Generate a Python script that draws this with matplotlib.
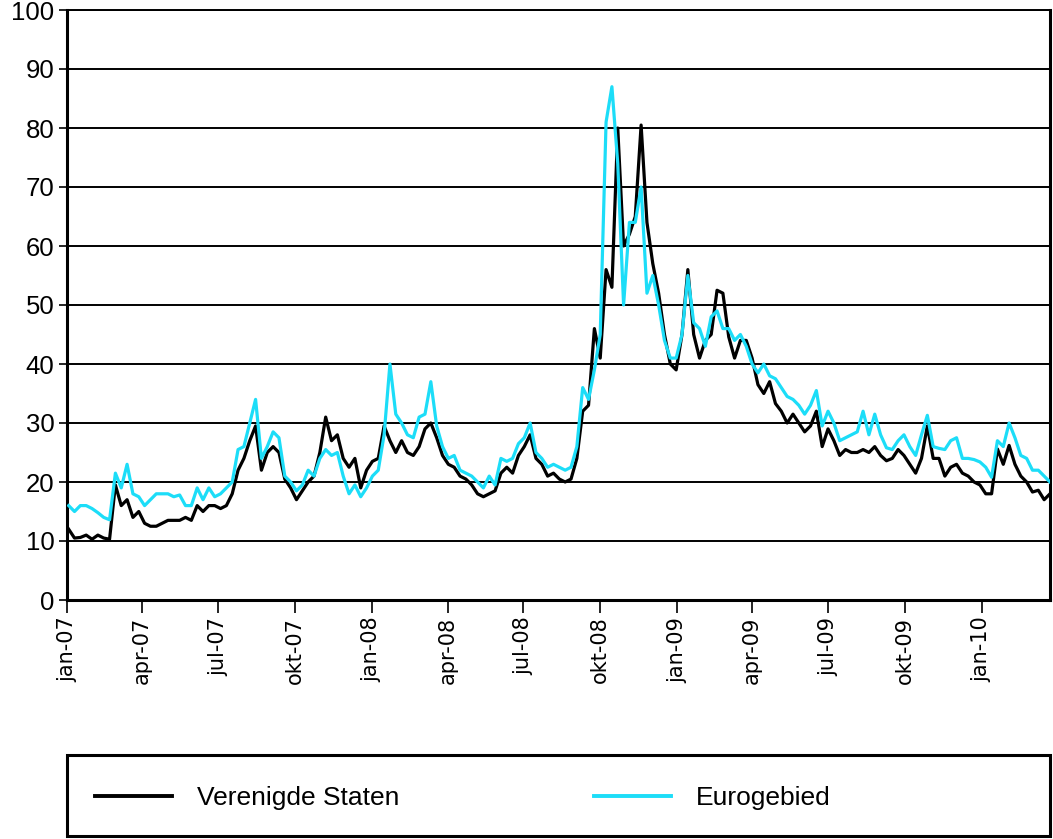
import pandas as pd
import matplotlib
matplotlib.use('Agg')
import matplotlib.pyplot as plt
from matplotlib.patches import Rectangle

################# DATA (weekly) #################

START_DATUM = '2007-01-03'

verenigde_staten = [
    12, 10.5, 10.6, 11, 10.3, 11, 10.5, 10.3, 19.5, 16,
    17, 14, 15, 13, 12.5, 12.5, 13, 13.5, 13.5, 13.5,
    14, 13.5, 16, 15, 16, 16, 15.5, 16, 18, 22,
    24, 27, 29.5, 22, 25, 26, 25, 20.5, 19, 17,
    18.5, 20, 21, 25, 31, 27, 28, 24, 22.5, 24,
    19, 22, 23.5, 24, 29.5, 27, 25, 27, 25, 24.5,
    26, 29, 30, 27.5, 24.5, 23, 22.5, 21, 20.5, 19.5,
    18, 17.5, 18, 18.5, 21.5, 22.5, 21.5, 24.5, 26, 28,
    24, 23, 21, 21.5, 20.5, 20, 20.5, 24, 32, 33,
    46, 41, 56, 53, 80, 60, 62, 65, 80.5, 64,
    57, 52, 45, 40, 39, 45, 56, 45, 41, 44,
    45, 52.5, 52, 44.6, 41, 44, 44, 41, 36.5, 35,
    37, 33.3, 32, 30, 31.5, 30, 28.5, 29.5, 32, 26,
    29, 27, 24.5, 25.5, 25, 25, 25.5, 25, 26, 24.5,
    23.6, 24, 25.5, 24.5, 23, 21.5, 24, 29.5, 24, 24,
    21, 22.5, 23, 21.5, 21, 20, 19.5, 18, 18, 25.6,
    23, 26.2, 23, 21, 20, 18.3, 18.6, 17, 18,
]

eurogebied = [
    16, 15, 16, 16, 15.5, 14.8, 14, 13.6, 21.5, 19,
    23, 18, 17.5, 16, 17, 18, 18, 18, 17.5, 17.8,
    16, 16, 19, 17, 19, 17.5, 18, 19, 20, 25.5,
    26, 30, 34, 24, 26, 28.5, 27.5, 21, 20, 18.5,
    19.5, 22, 21, 24, 25.5, 24.5, 25, 21, 18, 19.5,
    17.5, 19, 21, 22, 28, 40, 31.5, 30, 28, 27.5,
    31, 31.5, 37, 29.5, 26, 24, 24.5, 22, 21.5, 21,
    20, 19, 21, 19.5, 24, 23.5, 24, 26.5, 27.5, 30,
    25, 24, 22.5, 23, 22.5, 22, 22.5, 26, 36, 34,
    39, 45, 81, 87, 74, 50, 64, 64, 70, 52,
    55, 50, 44, 41, 41, 45, 55, 47, 46, 43,
    48, 49, 46, 46, 44, 45, 43, 40, 38.5, 40,
    38, 37.5, 36, 34.5, 34, 33, 31.5, 33, 35.5, 29.5,
    32, 30, 27, 27.5, 28, 28.5, 32, 28, 31.5, 28,
    25.8, 25.5, 27, 28, 26, 24.5, 28, 31.3, 26, 25.7,
    25.5, 27, 27.5, 24, 24, 23.8, 23.4, 22.5, 20.8, 27,
    26, 30, 27.5, 24.5, 24, 22, 22, 21, 20,
]

TICK_LABELS = ['jan-07', 'apr-07', 'jul-07', 'okt-07', 'jan-08', 'apr-08', 'jul-08',
               'okt-08', 'jan-09', 'apr-09', 'jul-09', 'okt-09', 'jan-10']

KLEUR_VS = 'black'
KLEUR_EURO = '#1CDDF8'

################# GRAFIEK #################

datums = pd.date_range(START_DATUM, periods=len(verenigde_staten), freq='7D')
tick_datums = pd.date_range('2007-01-01', periods=len(TICK_LABELS), freq='QS')

W, H = 1053, 839
fig = plt.figure(figsize=(W / 100, H / 100), dpi=100)
ax = fig.add_axes([67 / W, 1 - 600 / H, 983 / W, 590 / H])

ax.plot(datums, verenigde_staten, color=KLEUR_VS, lw=2.3, label='Verenigde Staten', zorder=3)
ax.plot(datums, eurogebied, color=KLEUR_EURO, lw=2.3, label='Eurogebied', zorder=4)

ax.set_ylim(0, 100)
ax.set_yticks(range(0, 101, 10))
ax.set_xlim(pd.Timestamp('2007-01-01'), pd.Timestamp('2010-03-24'))
ax.set_xticks(tick_datums)
ax.set_xticklabels(TICK_LABELS, rotation=90, fontsize=15, family='DejaVu Sans')
for lbl in ax.get_yticklabels():
    lbl.set_fontsize(18.5)
    lbl.set_family('Liberation Sans')

ax.grid(axis='y', color='black', lw=1.4)
ax.set_axisbelow(True)
ax.tick_params(axis='x', direction='out', length=9, width=1.2, pad=3)
ax.tick_params(axis='y', direction='out', length=6, width=1.2, pad=3)

for kant in ['left', 'bottom', 'right']:
    ax.spines[kant].set_linewidth(2.2)
ax.spines['top'].set_linewidth(1.4)

# legenda: kader los getekend, items zonder kader
fig.patches.append(Rectangle((67 / W, 3 / H), 983 / W, 81 / H, transform=fig.transFigure,
                             fill=False, edgecolor='black', lw=2.2))
leg = fig.legend(loc='center left', bbox_to_anchor=(95 / W, 1 - 798 / H),
                 ncol=2, frameon=False,
                 prop={'family': 'Liberation Sans', 'size': 19},
                 handlelength=2.9, handletextpad=0.95, columnspacing=7.4,
                 borderaxespad=0, borderpad=0)
for lijn in leg.get_lines():
    lijn.set_linewidth(2.8)

fig.savefig('out.png', dpi=100)
